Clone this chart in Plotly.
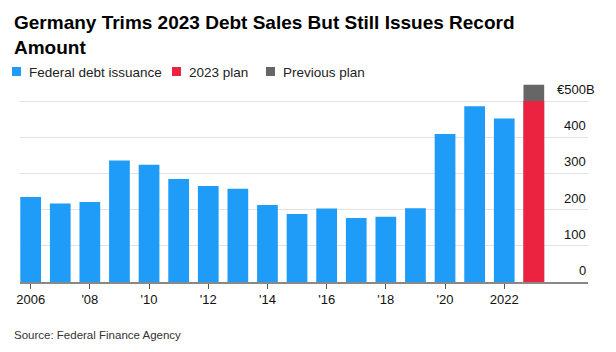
import plotly.graph_objects as go

# ---- data ----
years = list(range(2006, 2023))
issuance = [235, 217, 221, 336, 324, 285, 265, 258, 213, 188, 203, 177, 180, 204, 409, 486, 452]
plan_year = [2023]
plan_2023 = [500]
previous_plan = [545]
x_tickvals = [2006, 2008, 2010, 2012, 2014, 2016, 2018, 2020, 2022]
x_ticktext = ["2006", "'08", "'10", "'12", "'14", "'16", "'18", "'20", "2022"]
y_tickvals = [0, 100, 200, 300, 400, 500]
y_ticktext = ["0", "100", "200", "300", "400", "€500B"]
legend_names = ["Federal debt issuance", "2023 plan", "Previous plan"]

BLUE = "#1E9CF8"
RED = "#EC2340"
GREY = "#666666"

W, H = 616, 352
L, R, T, B = 20, 28, 83, 70
PW, PH = W - L - R, H - T - B

def px_x(px):
    return (px - L) / PW

def px_y(py):
    return (H - B - py) / PH

fig = go.Figure()
fig.add_trace(go.Bar(x=plan_year, y=previous_plan, name=legend_names[2],
                     marker=dict(color=GREY, line=dict(width=0)), width=0.7))
fig.add_trace(go.Bar(x=plan_year, y=plan_2023, name=legend_names[1],
                     marker=dict(color=RED, line=dict(width=0)), width=0.7))
fig.add_trace(go.Bar(x=years, y=issuance, name=legend_names[0],
                     marker=dict(color=BLUE, line=dict(width=0)), width=0.7))

font_family = "Liberation Sans, Arial, sans-serif"

fig.update_layout(
    width=W, height=H,
    margin=dict(l=L, r=R, t=T, b=B, pad=0),
    paper_bgcolor="white", plot_bgcolor="white",
    barmode="overlay",
    showlegend=False,
    font=dict(family=font_family, size=13, color="#222222"),
    xaxis=dict(
        range=[2005.64, 2024.83],
        tickvals=x_tickvals, ticktext=x_ticktext,
        ticks="outside", ticklen=5, tickcolor="#555555", tickwidth=1,
        showline=True, linecolor="#888888", linewidth=1.5,
        showgrid=False, zeroline=False,
        tickfont=dict(size=13, color="#111111"),
    ),
    yaxis=dict(
        range=[0, 550],
        side="right",
        tickvals=y_tickvals,
        showticklabels=False,
        showgrid=True, gridcolor="#E2E2E2", gridwidth=1,
        zeroline=False, showline=False, ticks="",
    ),
)

# title
fig.add_annotation(xref="paper", yref="paper", x=px_x(12), y=px_y(10),
                   xanchor="left", yanchor="top", showarrow=False, align="left",
                   text="<b>Germany Trims 2023 Debt Sales But Still Issues Record<br>Amount</b>",
                   font=dict(family=font_family, size=19, color="#000000"))

# y tick labels (right aligned above gridlines, unit hanging on last label)
for v, t in zip(y_tickvals, y_ticktext):
    shift = 0
    if t.endswith("B"):
        shift = 9
    fig.add_annotation(xref="paper", yref="y", x=px_x(588 + shift), y=v,
                       xanchor="right", yanchor="bottom", yshift=2, showarrow=False,
                       text=t, font=dict(size=13, color="#111111"))

# manual legend
legend_x = [12, 172, 266]
legend_colors = [BLUE, RED, GREY]
for lx, col, name in zip(legend_x, legend_colors, legend_names):
    fig.add_shape(type="rect", xref="paper", yref="paper",
                  x0=px_x(lx), x1=px_x(lx + 9), y0=px_y(76), y1=px_y(67),
                  fillcolor=col, line=dict(width=0))
    fig.add_annotation(xref="paper", yref="paper", x=px_x(lx + 15), y=px_y(72),
                       xanchor="left", yanchor="middle", showarrow=False,
                       text=name, font=dict(size=13.5, color="#222222"))

fig.add_annotation(xref="paper", yref="paper", x=px_x(12), y=px_y(335),
                   xanchor="left", yanchor="middle", showarrow=False,
                   text="Source: Federal Finance Agency",
                   font=dict(size=11.5, color="#333333"))

fig.write_html("out.html")
